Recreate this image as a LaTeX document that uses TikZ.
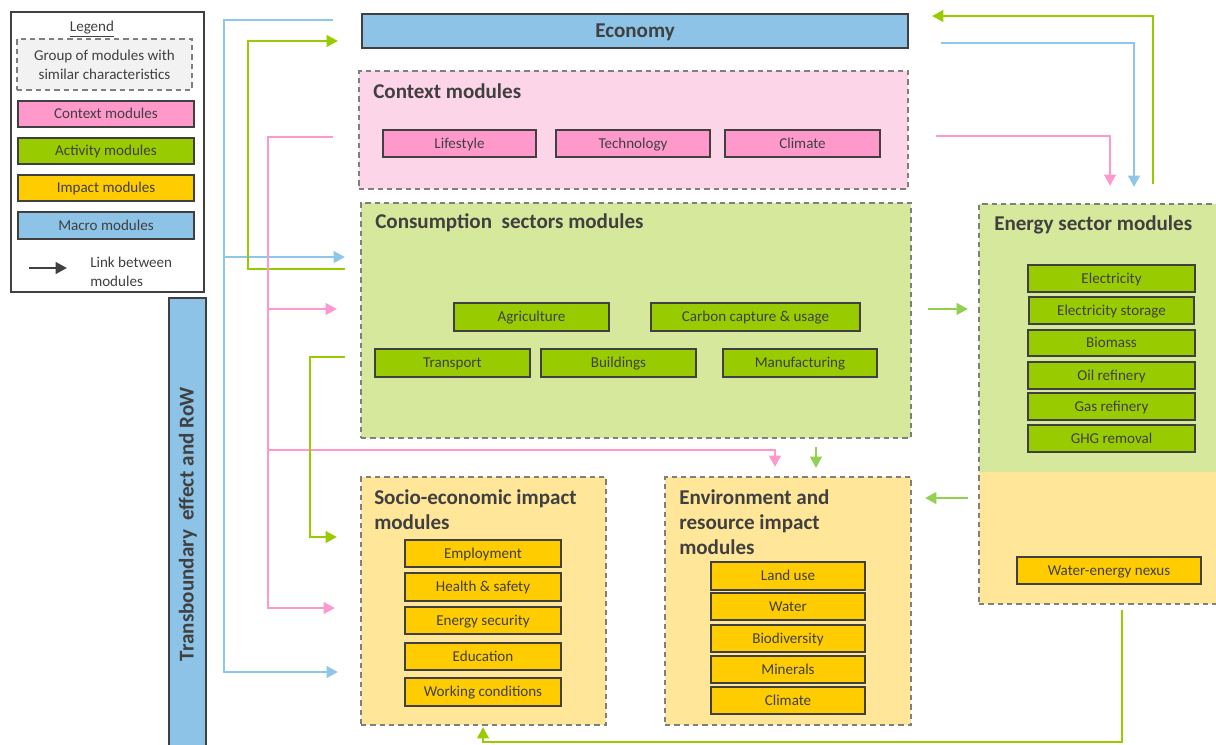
\documentclass[tikz,border=0pt]{standalone}
\usepackage{fontspec}
\setmainfont{Carlito}
\usetikzlibrary{arrows.meta,fit,calc}
\definecolor{dgray}{HTML}{404040}
\definecolor{ggray}{HTML}{7F7F7F}
\definecolor{txt}{HTML}{404040}
\definecolor{pinkbox}{HTML}{FF99CC}
\definecolor{greenbox}{HTML}{99CC00}
\definecolor{yellowbox}{HTML}{FFCC00}
\definecolor{bluebox}{HTML}{8DC3E6}
\definecolor{pinkgrp}{HTML}{FCD5E8}
\definecolor{greengrp}{HTML}{D5E89B}
\definecolor{yellowgrp}{HTML}{FFE699}
\definecolor{legendgrp}{HTML}{F2F2F2}
\definecolor{pinkline}{HTML}{FF99CC}
\definecolor{blueline}{HTML}{8EC7EA}
\definecolor{greenline}{HTML}{99CC00}
\definecolor{lgreenline}{HTML}{92D050}
\tikzset{
  box/.style={draw=dgray, line width=1.3pt, inner sep=0pt},
  boxtxt/.style={text=txt, font=\fontsize{11.3}{13}\selectfont, inner sep=0pt, align=center},
  celltxt/.style={boxtxt, text height=7.3pt, text depth=0pt},
  grp/.style={draw=ggray, dash pattern=on 4pt off 3pt, line width=1.1pt, inner sep=0pt},
  ttl/.style={text=txt, font=\bfseries\fontsize{15.8}{18.75}\selectfont, align=left, inner sep=0pt},
  conn/.style={line width=2.2pt, -{Triangle[length=8.5pt,width=8.5pt]}},
  pk/.style={conn, draw=pinkline},
  bu/.style={conn, draw=blueline},
  gr/.style={conn, draw=greenline},
  lg/.style={conn, draw=lgreenline},
}
% \bxnode{name}{fill}{x1}{y1}{x2}{y2}{text}
\newcommand{\bxnode}[7]{\node[box, fill=#2, fit={(#3,#4)(#5,#6)}, label={[celltxt]center:#7}] (#1) {};}
\begin{document}
\begin{tikzpicture}[x=0.75pt,y=-0.75pt]
\clip (0,0) rectangle (1216,744);
\fill[white] (0,0) rectangle (1216,744);

% ---------- Legend ----------
\node[draw=dgray, line width=1pt, inner sep=0pt, fit={(11,12)(204,292)}] (legend) {};
\node[boxtxt] (legtitle) at (92,29) {\underline{Legend}};
\node[grp, fill=legendgrp, fit={(17,39)(192,90)}, label={[boxtxt, font=\fontsize{11.3}{14.25}\selectfont]center:Group of modules with\\similar characteristics}] (leggrp) {};
\bxnode{legctx}{pinkbox}{18}{101}{194}{127}{Context modules}
\bxnode{legact}{greenbox}{18}{138}{194}{164}{Activity modules}
\bxnode{legimp}{yellowbox}{18}{175}{194}{201}{Impact modules}
\bxnode{legmac}{bluebox}{18}{212}{194}{239}{Macro modules}
\coordinate (legA) at (29,268);
\coordinate (legB) at (67,268);
\draw[conn, draw=dgray] (legA) -- (legB);
\node[anchor=west, align=left, text=txt, font=\fontsize{11.3}{14.25}\selectfont, inner sep=0pt] (leglink) at (90,272) {Link between\\modules};

% ---------- Transboundary bar ----------
\node[box, fill=bluebox, fit={(169,298)(206,760)}] (trans) {};
\node[ttl, rotate=90] (transtxt) at (188,524) {Transboundary\ \ effect and RoW};

% ---------- Economy ----------
\node[box, fill=bluebox, fit={(362,14)(908,48)}, label={[ttl, text height=10.2pt, text depth=0pt]center:Economy}] (econ) {};

% ---------- Context modules ----------
\node[grp, fill=pinkgrp, fit={(359,71)(908,189)}] (ctx) {};
\node[ttl, anchor=west] (ctxttl) at (373,91) {Context modules};
\bxnode{lifestyle}{pinkbox}{383}{130}{536}{157}{Lifestyle}
\bxnode{technology}{pinkbox}{556}{130}{710}{157}{Technology}
\bxnode{climctx}{pinkbox}{725}{130}{880}{157}{Climate}

% ---------- Consumption sectors ----------
\node[grp, fill=greengrp, fit={(361,203)(911,438)}] (cons) {};
\node[ttl, anchor=west] (consttl) at (375,223) {Consumption\ \ sectors modules};
\bxnode{agri}{greenbox}{454}{303}{609}{331}{Agriculture}
\bxnode{ccu}{greenbox}{651}{303}{860}{331}{Carbon capture \& usage}
\bxnode{transport}{greenbox}{375}{349}{530}{377}{Transport}
\bxnode{buildings}{greenbox}{541}{349}{696}{377}{Buildings}
\bxnode{manuf}{greenbox}{723}{349}{877}{377}{Manufacturing}

% ---------- Energy sector ----------
\fill[greengrp] (979,204) rectangle (1222,472);
\fill[yellowgrp] (979,472) rectangle (1222,604);
\node[grp, fit={(979,204)(1222,604)}] (energy) {};
\node[ttl, anchor=west] (energyttl) at (994,225) {Energy sector modules};
\bxnode{elec}{greenbox}{1028}{265}{1195}{292}{Electricity}
\bxnode{elecst}{greenbox}{1029}{297}{1194}{324}{Electricity storage}
\bxnode{biomass}{greenbox}{1028}{330}{1195}{356}{Biomass}
\bxnode{oil}{greenbox}{1028}{362}{1195}{389}{Oil refinery}
\bxnode{gas}{greenbox}{1028}{393}{1195}{420}{Gas refinery}
\bxnode{ghg}{greenbox}{1028}{425}{1195}{452}{GHG removal}
\bxnode{wen}{yellowbox}{1017}{557}{1201}{584}{Water-energy nexus}

% ---------- Socio-economic ----------
\node[grp, fill=yellowgrp, fit={(361,477)(606,725)}] (socio) {};
\node[ttl, anchor=west] (socttl) at (374,510) {Socio-economic impact\\modules};
\bxnode{employ}{yellowbox}{405}{540}{561}{567}{Employment}
\bxnode{health}{yellowbox}{405}{573}{561}{601}{Health \& safety}
\bxnode{esec}{yellowbox}{405}{607}{561}{634}{Energy security}
\bxnode{educ}{yellowbox}{405}{643}{561}{670}{Education}
\bxnode{work}{yellowbox}{405}{678}{561}{706}{Working conditions}

% ---------- Environment ----------
\node[grp, fill=yellowgrp, fit={(665,477)(911,725)}] (env) {};
\node[ttl, anchor=west] (envttl) at (679,522.5) {Environment and\\resource impact\\modules};
\bxnode{land}{yellowbox}{711}{562}{865}{590}{Land use}
\bxnode{water}{yellowbox}{711}{593}{865}{620}{Water}
\bxnode{biodiv}{yellowbox}{711}{625}{865}{652}{Biodiversity}
\bxnode{minerals}{yellowbox}{711}{656}{865}{683}{Minerals}
\bxnode{climenv}{yellowbox}{711}{687}{865}{714}{Climate}

% ---------- Connector end points ----------
\coordinate (b1s) at (333,20);   \coordinate (b1e) at (338,672);
\coordinate (b2s) at (224,257);  \coordinate (b2e) at (345,257);
\coordinate (g1s) at (345,269);  \coordinate (g1e) at (338,41);
\coordinate (p1s) at (333,137);  \coordinate (p1e) at (335,608);
\coordinate (p2s) at (268,309);  \coordinate (p2e) at (337,309);
\coordinate (p3s) at (268,450);  \coordinate (p3e) at (775,467);
\coordinate (g2s) at (345,357);  \coordinate (g2e) at (337,537);
\coordinate (g3s) at (816,447);  \coordinate (g3e) at (816,468);
\coordinate (p4s) at (936,136);  \coordinate (p4e) at (1110,186);
\coordinate (b3s) at (941,43);   \coordinate (b3e) at (1134,187);
\coordinate (g4s) at (1153,184); \coordinate (g4e) at (932,16);
\coordinate (g5s) at (928,309);  \coordinate (g5e) at (968,309);
\coordinate (g6s) at (968,498);  \coordinate (g6e) at (925,498);
\coordinate (g7s) at (1122,610); \coordinate (g7e) at (483,727);

% ---------- Connectors ----------
\draw[bu] (b1s) -- (224,20) -- (224,672) -- (b1e);
\draw[bu] (b2s) -- (b2e);
\draw[gr] (g1s) -- (248,269) -- (248,41) -- (g1e);
\draw[pk] (p1s) -- (268,137) -- (268,608) -- (p1e);
\draw[pk] (p2s) -- (p2e);
\draw[pk] (p3s) -- (775,450) -- (p3e);
\draw[gr] (g2s) -- (310,357) -- (310,537) -- (g2e);
\draw[lg] (g3s) -- (g3e);
\draw[pk] (p4s) -- (1110,136) -- (p4e);
\draw[bu] (b3s) -- (1134,43) -- (b3e);
\draw[gr] (g4s) -- (1153,16) -- (g4e);
\draw[lg] (g5s) -- (g5e);
\draw[lg] (g6s) -- (g6e);
\draw[gr] (g7s) -- (1122,742) -- (483,742) -- (g7e);
\end{tikzpicture}
\end{document}
